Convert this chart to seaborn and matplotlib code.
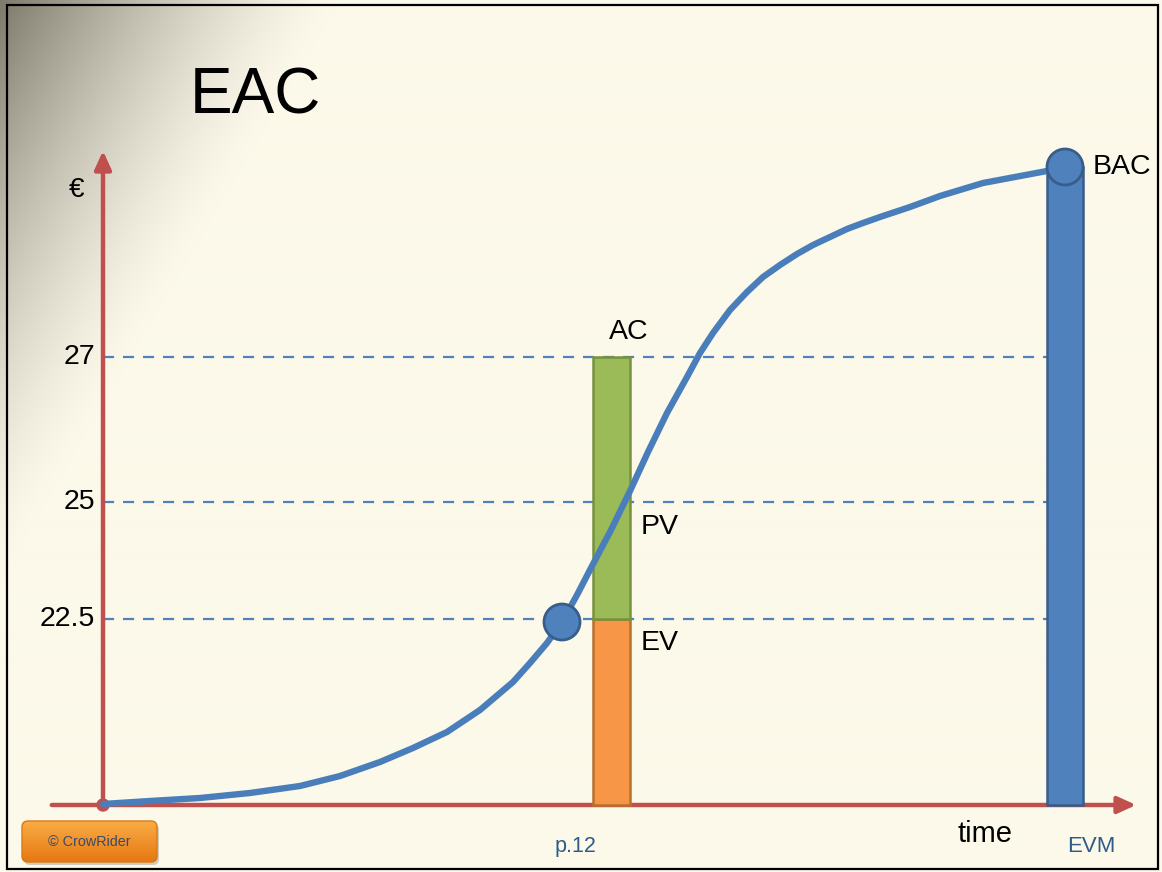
import numpy as np
import matplotlib.pyplot as plt
import seaborn as sns
from matplotlib.patches import FancyBboxPatch, Rectangle, Circle

# levels on the vertical axis (drawing units, origin at axis crossing)
level_labels = ["22.5", "25", "27"]
level_heights = [186, 303, 448]

# S-curve (planned value)
curve_t = [0, 47, 97, 147, 197, 237, 277, 310, 344, 377,
           410, 427, 444, 459, 474, 489, 508, 527, 545, 564,
           584, 597, 610, 627, 644, 660, 677, 694, 710, 727,
           744, 760, 777, 807, 837, 880, 912, 944, 962]
curve_v = [1, 4, 7, 12, 19, 29, 43, 57, 73, 95,
           123, 142, 162, 183, 210, 239, 275, 314, 353, 392,
           428, 452, 472, 495, 513, 528, 540, 551, 560, 568,
           576, 582, 588, 598, 609, 622, 628, 634, 638]

# status date bars
status_t = 508
ev_value = 186
ac_value = 448
ev_point = (459, 183)

# BAC bar at the end
bac_t = 962
bac_value = 638

sns.set_style("white")
plt.rcParams["font.family"] = ["Liberation Sans", "DejaVu Sans"]
plt.rcParams["text.color"] = "black"

W, H = 1162, 872
fig = plt.figure(figsize=(W / 100, H / 100), dpi=100)

# background with grey gradient in the top-left corner
bg = fig.add_axes([0, 0, 1, 1])
yy, xx = np.mgrid[0:H, 0:W]
t = np.clip(1 - (xx / 340 + yy / 580), 0, 1) ** 1.4
cream = np.array([252, 249, 234]) / 255
grey = np.array([125, 121, 107]) / 255
img = cream[None, None, :] + (grey - cream)[None, None, :] * t[..., None]
bg.imshow(img, extent=[0, W, H, 0], aspect="auto")
bg.set_xlim(0, W)
bg.set_ylim(H, 0)
bg.axis("off")
bg.add_patch(Rectangle((7, 5), 1151, 864, fill=False, edgecolor="black", lw=1.6))

ax = fig.add_axes([0, 0, 1, 1])
ax.patch.set_alpha(0)
ax.set_xlim(-103, W - 103)
ax.set_ylim(-67, H - 67)
ax.axis("off")

red = "#C0504D"
blue = "#4A7EBB"
edge_blue = "#385D8A"

# dashed reference lines
ax.hlines(level_heights, 0, bac_t - 18, colors="#4F81BD", linestyles=(0, (5, 4)),
          lw=1.6, zorder=1)

# axes with arrows
ax.annotate("", xy=(1036, 0), xytext=(-54, 0),
            arrowprops=dict(arrowstyle="-|>,head_length=1.1,head_width=0.5",
                            color=red, lw=3.2), zorder=2)
ax.annotate("", xy=(0, 657), xytext=(0, 0),
            arrowprops=dict(arrowstyle="-|>,head_length=1.1,head_width=0.5",
                            color=red, lw=3.2), zorder=2)
ax.add_patch(Circle((0, 0), 6, color=red, zorder=3))

# bars
ax.bar([status_t], [ev_value], width=37, color="#F79646", edgecolor="#B8702F",
       lw=1.8, zorder=3)
ax.bar([status_t], [ac_value - ev_value], bottom=[ev_value], width=37,
       color="#9BBB59", edgecolor="#76923C", lw=1.8, zorder=3)
ax.bar([bac_t], [bac_value], width=36, color="#4F81BD", edgecolor=edge_blue,
       lw=1.8, zorder=3)

# curve
sns.lineplot(x=curve_t, y=curve_v, ax=ax, color=blue, lw=4.6, sort=False,
             estimator=None, zorder=4, solid_joinstyle="round",
             solid_capstyle="round")
ax.add_patch(Circle(ev_point, 18, facecolor="#4F81BD", edgecolor=edge_blue,
                    lw=2, zorder=5))
ax.add_patch(Circle((bac_t, bac_value), 18, facecolor="#4F81BD",
                    edgecolor=edge_blue, lw=2, zorder=5))

# texts
ax.text(87, 709, "EAC", fontsize=46, ha="left", va="center")
ax.text(-26, 615, "€", fontsize=20, ha="center", va="center")
for lab, h in zip(level_labels, level_heights):
    ax.text(-8, h, lab, fontsize=20.5, ha="right", va="center")
ax.text(526, 473, "AC", fontsize=20.5, ha="center", va="center")
ax.text(538, 278, "PV", fontsize=20.5, ha="left", va="center")
ax.text(538, 162, "EV", fontsize=20.5, ha="left", va="center")
ax.text(990, 638, "BAC", fontsize=20.5, ha="left", va="center")
ax.text(882, -29, "time", fontsize=21, ha="center", va="center")
ax.text(988, -41, "EVM", fontsize=16, ha="center", va="center", color="#2E5C8A")
ax.text(473, -41, "p.12", fontsize=15.5, ha="center", va="center", color="#2E5C8A")

# orange copyright button with a soft vertical gradient
shadow = FancyBboxPatch((24, 824), 135, 41, boxstyle="round,pad=0,rounding_size=6",
                        facecolor="#000000", alpha=0.18, edgecolor="none")
bg.add_patch(shadow)
btn = FancyBboxPatch((22, 821), 135, 41, boxstyle="round,pad=0,rounding_size=6",
                     facecolor="none", edgecolor="#D97A10", lw=1.0, zorder=3)
bg.add_patch(btn)
grad = np.linspace(0, 1, 41)[:, None]
top_c = np.array([250, 172, 70]) / 255
bot_c = np.array([230, 120, 18]) / 255
btn_img = top_c[None, None, :] + (bot_c - top_c)[None, None, :] * grad[..., None]
im = bg.imshow(np.repeat(btn_img, 2, axis=1), extent=[22, 157, 862, 821],
               aspect="auto", zorder=2)
im.set_clip_path(btn)
bg.text(89.5, 842, "© CrowRider", fontsize=10.4, ha="center", va="center",
        color="#3B4A66", zorder=4)

fig.savefig("out.png", dpi=100)
